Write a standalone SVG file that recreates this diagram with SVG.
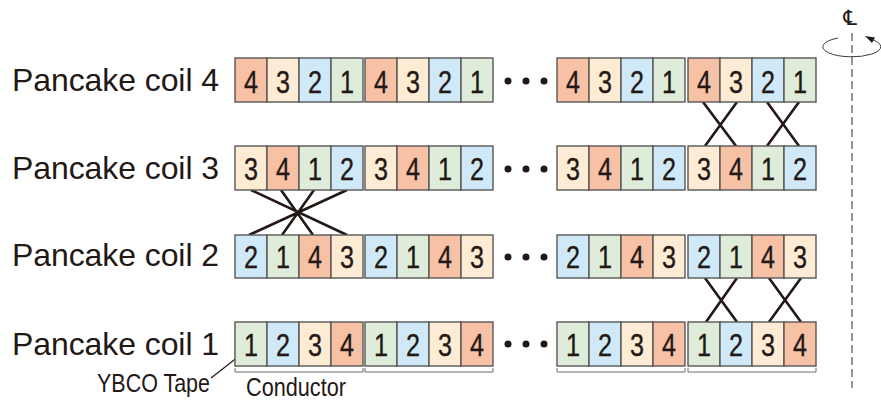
<svg xmlns="http://www.w3.org/2000/svg" width="881" height="401" viewBox="0 0 881 401">
<style>
text{font-family:"Liberation Sans",Arial,sans-serif;fill:#231815}
.l{font-size:32px}
.d{font-size:31px;text-anchor:middle;stroke:#231815;stroke-width:.35}
.s{font-size:25px}
rect{stroke:#595757;stroke-width:1.4}
.c1{fill:#deecd9}.c2{fill:#d0e9f8}.c3{fill:#fdebd3}.c4{fill:#f7c1a6}
.x{stroke:#231815;stroke-width:2.6;fill:none}
.b{stroke:#716d6c;stroke-width:1;fill:none}
.dot{fill:#231815}
</style>
<g id="labels">
<text class="l" x="12" y="91" textLength="207">Pancake coil 4</text>
<text class="l" x="12" y="179" textLength="207">Pancake coil 3</text>
<text class="l" x="12" y="266" textLength="207">Pancake coil 2</text>
<text class="l" x="12" y="355" textLength="207">Pancake coil 1</text>
</g>
<g id="connectors">
<path class="x" d="M703 102L736 146M737 102L705 146M767 102L799 146M799 102L767 146"/>
<path class="x" d="M251 190L347 235M281 190L313 235M314 190L282 235M347 190L249 235"/>
<path class="x" d="M705 278L737 322M737 278L706 322M769 278L801 322M801 278L769 322"/>
<path class="b" d="M235 368V372H363V368M365 368V372H493V368M557 368V372H685V368M688 368V372H816V368"/>
<path d="M243 353L211 378" stroke="#231815" stroke-width="1.2" fill="none"/>
</g>
<g id="coil4">
<rect class="c4" x="235" y="58" width="32" height="44"/><text class="d" x="251" y="93" textLength="14" lengthAdjust="spacingAndGlyphs">4</text>
<rect class="c3" x="267" y="58" width="32" height="44"/><text class="d" x="283" y="93" textLength="14" lengthAdjust="spacingAndGlyphs">3</text>
<rect class="c2" x="299" y="58" width="32" height="44"/><text class="d" x="315" y="93" textLength="14" lengthAdjust="spacingAndGlyphs">2</text>
<rect class="c1" x="331" y="58" width="32" height="44"/><text class="d" x="347" y="93" textLength="14" lengthAdjust="spacingAndGlyphs">1</text>
<rect class="c4" x="365" y="58" width="32" height="44"/><text class="d" x="381" y="93" textLength="14" lengthAdjust="spacingAndGlyphs">4</text>
<rect class="c3" x="397" y="58" width="32" height="44"/><text class="d" x="413" y="93" textLength="14" lengthAdjust="spacingAndGlyphs">3</text>
<rect class="c2" x="429" y="58" width="32" height="44"/><text class="d" x="445" y="93" textLength="14" lengthAdjust="spacingAndGlyphs">2</text>
<rect class="c1" x="461" y="58" width="32" height="44"/><text class="d" x="477" y="93" textLength="14" lengthAdjust="spacingAndGlyphs">1</text>
<circle class="dot" cx="508" cy="81" r="3.5"/><circle class="dot" cx="526" cy="81" r="3.5"/><circle class="dot" cx="544" cy="81" r="3.5"/>
<rect class="c4" x="557" y="58" width="32" height="44"/><text class="d" x="573" y="93" textLength="14" lengthAdjust="spacingAndGlyphs">4</text>
<rect class="c3" x="589" y="58" width="32" height="44"/><text class="d" x="605" y="93" textLength="14" lengthAdjust="spacingAndGlyphs">3</text>
<rect class="c2" x="621" y="58" width="32" height="44"/><text class="d" x="637" y="93" textLength="14" lengthAdjust="spacingAndGlyphs">2</text>
<rect class="c1" x="653" y="58" width="32" height="44"/><text class="d" x="669" y="93" textLength="14" lengthAdjust="spacingAndGlyphs">1</text>
<rect class="c4" x="688" y="58" width="32" height="44"/><text class="d" x="704" y="93" textLength="14" lengthAdjust="spacingAndGlyphs">4</text>
<rect class="c3" x="720" y="58" width="32" height="44"/><text class="d" x="736" y="93" textLength="14" lengthAdjust="spacingAndGlyphs">3</text>
<rect class="c2" x="752" y="58" width="32" height="44"/><text class="d" x="768" y="93" textLength="14" lengthAdjust="spacingAndGlyphs">2</text>
<rect class="c1" x="784" y="58" width="32" height="44"/><text class="d" x="800" y="93" textLength="14" lengthAdjust="spacingAndGlyphs">1</text>
</g>
<g id="coil3">
<rect class="c3" x="235" y="146" width="32" height="44"/><text class="d" x="251" y="180" textLength="14" lengthAdjust="spacingAndGlyphs">3</text>
<rect class="c4" x="267" y="146" width="32" height="44"/><text class="d" x="283" y="180" textLength="14" lengthAdjust="spacingAndGlyphs">4</text>
<rect class="c1" x="299" y="146" width="32" height="44"/><text class="d" x="315" y="180" textLength="14" lengthAdjust="spacingAndGlyphs">1</text>
<rect class="c2" x="331" y="146" width="32" height="44"/><text class="d" x="347" y="180" textLength="14" lengthAdjust="spacingAndGlyphs">2</text>
<rect class="c3" x="365" y="146" width="32" height="44"/><text class="d" x="381" y="180" textLength="14" lengthAdjust="spacingAndGlyphs">3</text>
<rect class="c4" x="397" y="146" width="32" height="44"/><text class="d" x="413" y="180" textLength="14" lengthAdjust="spacingAndGlyphs">4</text>
<rect class="c1" x="429" y="146" width="32" height="44"/><text class="d" x="445" y="180" textLength="14" lengthAdjust="spacingAndGlyphs">1</text>
<rect class="c2" x="461" y="146" width="32" height="44"/><text class="d" x="477" y="180" textLength="14" lengthAdjust="spacingAndGlyphs">2</text>
<circle class="dot" cx="508" cy="169" r="3.5"/><circle class="dot" cx="526" cy="169" r="3.5"/><circle class="dot" cx="544" cy="169" r="3.5"/>
<rect class="c3" x="557" y="146" width="32" height="44"/><text class="d" x="573" y="180" textLength="14" lengthAdjust="spacingAndGlyphs">3</text>
<rect class="c4" x="589" y="146" width="32" height="44"/><text class="d" x="605" y="180" textLength="14" lengthAdjust="spacingAndGlyphs">4</text>
<rect class="c1" x="621" y="146" width="32" height="44"/><text class="d" x="637" y="180" textLength="14" lengthAdjust="spacingAndGlyphs">1</text>
<rect class="c2" x="653" y="146" width="32" height="44"/><text class="d" x="669" y="180" textLength="14" lengthAdjust="spacingAndGlyphs">2</text>
<rect class="c3" x="688" y="146" width="32" height="44"/><text class="d" x="704" y="180" textLength="14" lengthAdjust="spacingAndGlyphs">3</text>
<rect class="c4" x="720" y="146" width="32" height="44"/><text class="d" x="736" y="180" textLength="14" lengthAdjust="spacingAndGlyphs">4</text>
<rect class="c1" x="752" y="146" width="32" height="44"/><text class="d" x="768" y="180" textLength="14" lengthAdjust="spacingAndGlyphs">1</text>
<rect class="c2" x="784" y="146" width="32" height="44"/><text class="d" x="800" y="180" textLength="14" lengthAdjust="spacingAndGlyphs">2</text>
</g>
<g id="coil2">
<rect class="c2" x="235" y="235" width="32" height="43"/><text class="d" x="251" y="268" textLength="14" lengthAdjust="spacingAndGlyphs">2</text>
<rect class="c1" x="267" y="235" width="32" height="43"/><text class="d" x="283" y="268" textLength="14" lengthAdjust="spacingAndGlyphs">1</text>
<rect class="c4" x="299" y="235" width="32" height="43"/><text class="d" x="315" y="268" textLength="14" lengthAdjust="spacingAndGlyphs">4</text>
<rect class="c3" x="331" y="235" width="32" height="43"/><text class="d" x="347" y="268" textLength="14" lengthAdjust="spacingAndGlyphs">3</text>
<rect class="c2" x="365" y="235" width="32" height="43"/><text class="d" x="381" y="268" textLength="14" lengthAdjust="spacingAndGlyphs">2</text>
<rect class="c1" x="397" y="235" width="32" height="43"/><text class="d" x="413" y="268" textLength="14" lengthAdjust="spacingAndGlyphs">1</text>
<rect class="c4" x="429" y="235" width="32" height="43"/><text class="d" x="445" y="268" textLength="14" lengthAdjust="spacingAndGlyphs">4</text>
<rect class="c3" x="461" y="235" width="32" height="43"/><text class="d" x="477" y="268" textLength="14" lengthAdjust="spacingAndGlyphs">3</text>
<circle class="dot" cx="508" cy="257" r="3.5"/><circle class="dot" cx="526" cy="257" r="3.5"/><circle class="dot" cx="544" cy="257" r="3.5"/>
<rect class="c2" x="557" y="235" width="32" height="43"/><text class="d" x="573" y="268" textLength="14" lengthAdjust="spacingAndGlyphs">2</text>
<rect class="c1" x="589" y="235" width="32" height="43"/><text class="d" x="605" y="268" textLength="14" lengthAdjust="spacingAndGlyphs">1</text>
<rect class="c4" x="621" y="235" width="32" height="43"/><text class="d" x="637" y="268" textLength="14" lengthAdjust="spacingAndGlyphs">4</text>
<rect class="c3" x="653" y="235" width="32" height="43"/><text class="d" x="669" y="268" textLength="14" lengthAdjust="spacingAndGlyphs">3</text>
<rect class="c2" x="688" y="235" width="32" height="43"/><text class="d" x="704" y="268" textLength="14" lengthAdjust="spacingAndGlyphs">2</text>
<rect class="c1" x="720" y="235" width="32" height="43"/><text class="d" x="736" y="268" textLength="14" lengthAdjust="spacingAndGlyphs">1</text>
<rect class="c4" x="752" y="235" width="32" height="43"/><text class="d" x="768" y="268" textLength="14" lengthAdjust="spacingAndGlyphs">4</text>
<rect class="c3" x="784" y="235" width="32" height="43"/><text class="d" x="800" y="268" textLength="14" lengthAdjust="spacingAndGlyphs">3</text>
</g>
<g id="coil1">
<rect class="c1" x="235" y="322" width="32" height="44"/><text class="d" x="251" y="356" textLength="14" lengthAdjust="spacingAndGlyphs">1</text>
<rect class="c2" x="267" y="322" width="32" height="44"/><text class="d" x="283" y="356" textLength="14" lengthAdjust="spacingAndGlyphs">2</text>
<rect class="c3" x="299" y="322" width="32" height="44"/><text class="d" x="315" y="356" textLength="14" lengthAdjust="spacingAndGlyphs">3</text>
<rect class="c4" x="331" y="322" width="32" height="44"/><text class="d" x="347" y="356" textLength="14" lengthAdjust="spacingAndGlyphs">4</text>
<rect class="c1" x="365" y="322" width="32" height="44"/><text class="d" x="381" y="356" textLength="14" lengthAdjust="spacingAndGlyphs">1</text>
<rect class="c2" x="397" y="322" width="32" height="44"/><text class="d" x="413" y="356" textLength="14" lengthAdjust="spacingAndGlyphs">2</text>
<rect class="c3" x="429" y="322" width="32" height="44"/><text class="d" x="445" y="356" textLength="14" lengthAdjust="spacingAndGlyphs">3</text>
<rect class="c4" x="461" y="322" width="32" height="44"/><text class="d" x="477" y="356" textLength="14" lengthAdjust="spacingAndGlyphs">4</text>
<circle class="dot" cx="508" cy="344" r="3.5"/><circle class="dot" cx="526" cy="344" r="3.5"/><circle class="dot" cx="544" cy="344" r="3.5"/>
<rect class="c1" x="557" y="322" width="32" height="44"/><text class="d" x="573" y="356" textLength="14" lengthAdjust="spacingAndGlyphs">1</text>
<rect class="c2" x="589" y="322" width="32" height="44"/><text class="d" x="605" y="356" textLength="14" lengthAdjust="spacingAndGlyphs">2</text>
<rect class="c3" x="621" y="322" width="32" height="44"/><text class="d" x="637" y="356" textLength="14" lengthAdjust="spacingAndGlyphs">3</text>
<rect class="c4" x="653" y="322" width="32" height="44"/><text class="d" x="669" y="356" textLength="14" lengthAdjust="spacingAndGlyphs">4</text>
<rect class="c1" x="688" y="322" width="32" height="44"/><text class="d" x="704" y="356" textLength="14" lengthAdjust="spacingAndGlyphs">1</text>
<rect class="c2" x="720" y="322" width="32" height="44"/><text class="d" x="736" y="356" textLength="14" lengthAdjust="spacingAndGlyphs">2</text>
<rect class="c3" x="752" y="322" width="32" height="44"/><text class="d" x="768" y="356" textLength="14" lengthAdjust="spacingAndGlyphs">3</text>
<rect class="c4" x="784" y="322" width="32" height="44"/><text class="d" x="800" y="356" textLength="14" lengthAdjust="spacingAndGlyphs">4</text>
</g>
<g id="annotations">
<text class="s" x="97" y="392" textLength="113" lengthAdjust="spacingAndGlyphs">YBCO Tape</text>
<text class="s" x="246" y="396" textLength="100" lengthAdjust="spacingAndGlyphs">Conductor</text>
</g>
<g id="axis">
<path d="M852 33V388" stroke="#7d7b7a" stroke-width="1.6" stroke-dasharray="8 4" fill="none"/>
<path d="M838 38A29 10 0 1 0 870 39" stroke="#3e3a39" stroke-width="1" fill="none"/>
<path d="M865 36L875 37.5L872 43Z" fill="#231815"/>
<text x="850" y="25" text-anchor="middle" style="font-family:'DejaVu Sans',sans-serif;font-size:21px">℄</text>
</g>
</svg>
